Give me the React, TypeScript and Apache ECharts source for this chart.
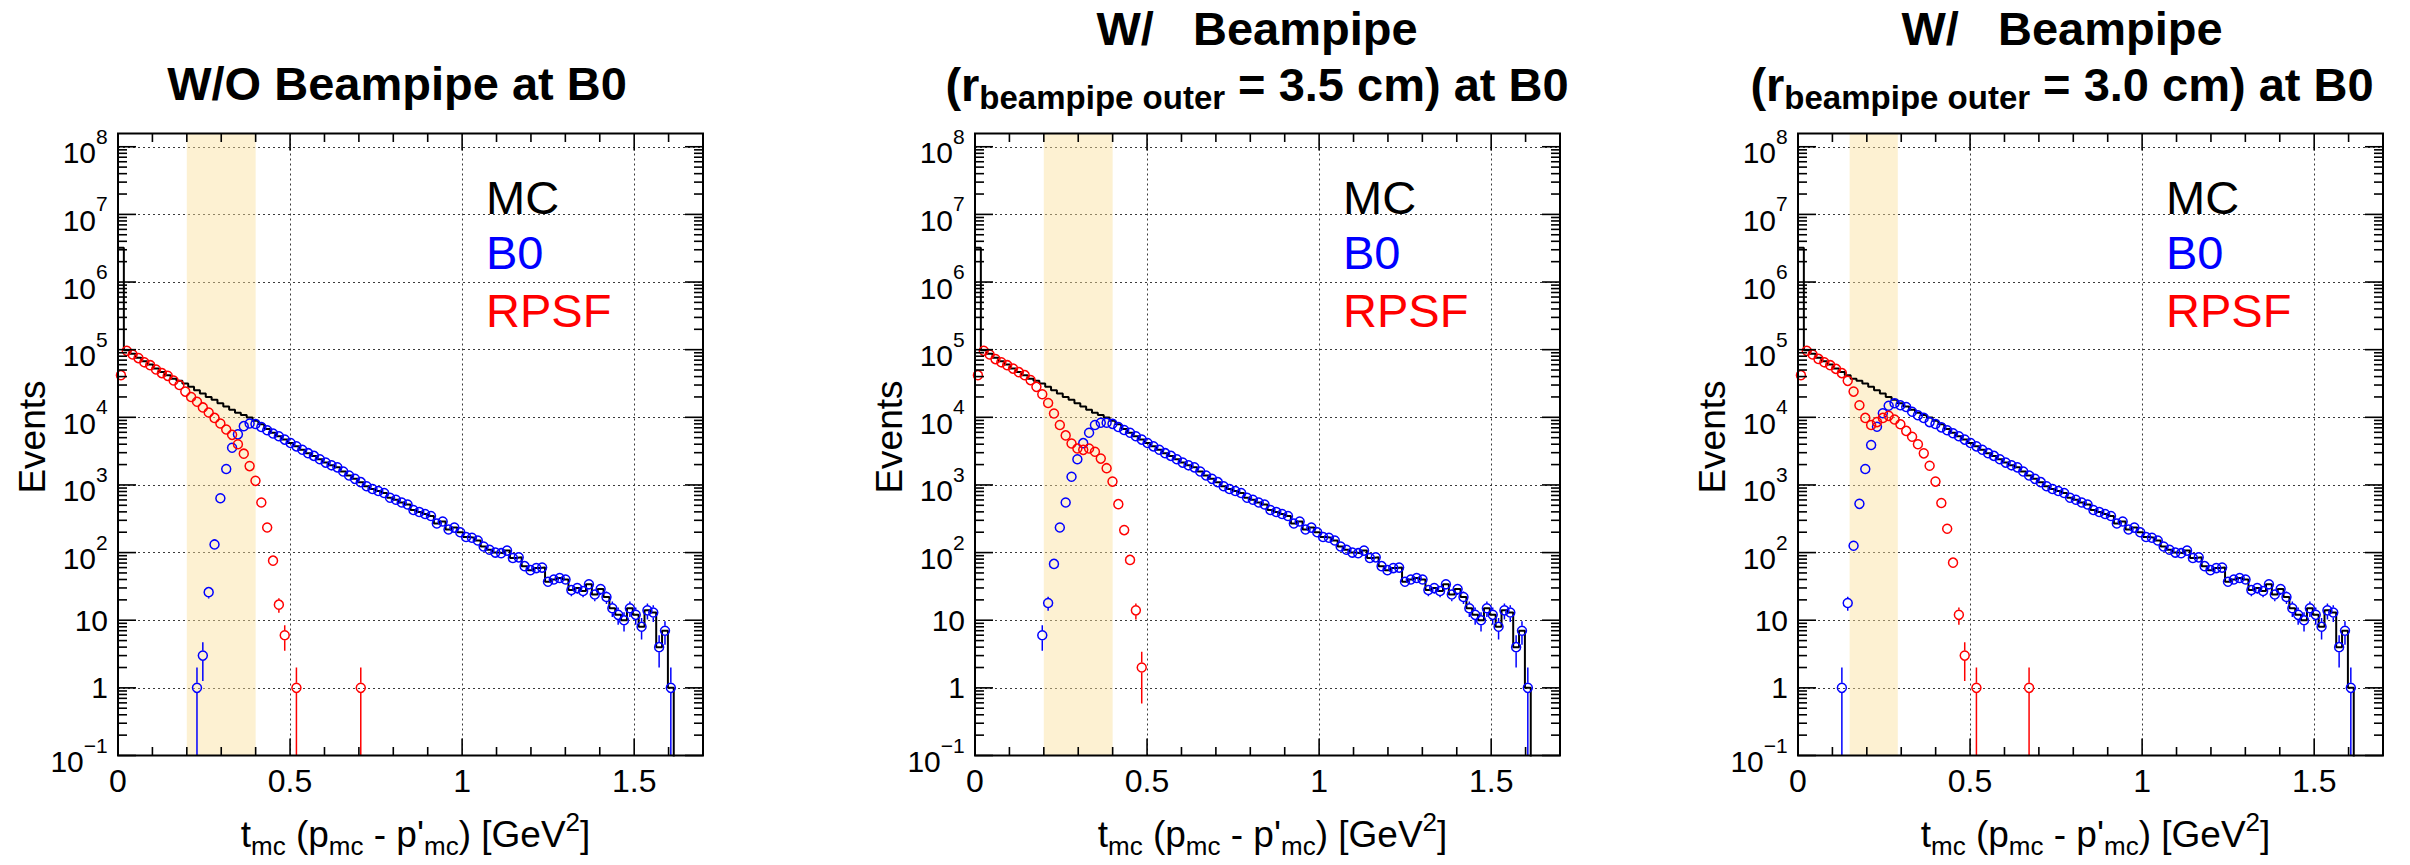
import React, { useEffect, useRef } from 'react';
import * as echarts from 'echarts';

const FONT = '"Liberation Sans", Arial, Helvetica, sans-serif';

// ---------- binning (100 bins of 0.017 GeV^2 between 0 and 1.7) ----------
const BIN_WIDTH = 0.017;
const X_MAX = 1.7;
const Y_MIN = 0.1;
const Y_MAX = 1.57e8;

// ---------- data ----------
// MC truth, bins 0..26 (the part that differs from the reconstructed B0 yield)
const mcHead = [3200000, 97700, 87100, 75900, 67600, 60300, 52500, 46800, 41700, 37200, 34700, 31600, 28200, 25100, 22400, 20000, 18200, 16200, 14500, 12900, 11700, 10800, 9900, 8900, 7900, 6700, 5900];
// bins 27..99: MC and B0 coincide here in all three panels
const commonTail = [5250, 4680, 4170, 3720, 3310, 2950, 2690, 2400, 2140, 1950, 1820, 1580, 1380, 1230, 1100, 955, 871, 813, 759, 646, 603, 550, 513, 427, 398, 372, 347, 269, 288, 219, 234, 200, 170, 166, 151, 123, 110, 100, 98, 107, 83, 85, 63, 55, 59, 60, 37, 40, 42, 40, 28, 30, 27, 34, 24, 29, 22, 15, 12, 10, 15, 12, 8, 14, 13, 4, 7, 1, 0, 0, 0, 0, 0];

// B0 reconstructed, bins 0..26
const b0NoPipeHead = [0, 0, 0, 0, 0, 0, 0, 0, 0, 0, 0, 0, 0, 1, 3, 26, 132, 635, 1720, 3550, 5600, 7400, 8100, 7950, 7200, 6450, 5750];
const b0Pipe35Head = [0, 0, 0, 0, 0, 0, 0, 0, 0, 0, 0, 6, 18, 68, 235, 550, 1320, 2400, 4150, 5900, 7700, 8300, 8300, 8000, 7200, 6500, 5900];
const b0Pipe30Head = [0, 0, 0, 0, 0, 0, 0, 1, 18, 126, 525, 1720, 3900, 7250, 11500, 14800, 16100, 15100, 14200, 12100, 10700, 9800, 8500, 7950, 7100, 6450, 5800];

// RPSF reconstructed, from bin 0 (bins not listed are empty)
const rpsfNoPipe = [42000, 96000, 85000, 75000, 65000, 59000, 51000, 45000, 41000, 35000, 30000, 24000, 20000, 17000, 14000, 11800, 9800, 8100, 6600, 5500, 4000, 2900, 1900, 1150, 550, 235, 76, 17, 6, 0, 1, 0, 0, 0, 0, 0, 0, 0, 0, 0, 0, 1];
const rpsfPipe35 = [42000, 96000, 85000, 72500, 65000, 59000, 52500, 46500, 42000, 35500, 28200, 21900, 16300, 11400, 7700, 5400, 4100, 3450, 3300, 3450, 3100, 2450, 1770, 1120, 520, 215, 78, 14, 2];
const rpsfPipe30 = [42000, 96000, 85000, 73000, 65000, 59000, 52000, 45000, 34600, 24000, 15100, 9800, 7700, 8500, 9800, 10500, 9300, 7900, 6300, 5150, 4000, 2930, 1920, 1120, 540, 225, 71, 12, 3, 0, 1, 0, 0, 0, 0, 0, 0, 0, 0, 1];

// highlighted t ranges
const bandNoPipe = [0.2, 0.4];
const bandPipe35 = [0.2, 0.4];
const bandPipe30 = [0.15, 0.29];

// tick positions / labels
const X_MAJOR = [0, 0.5, 1, 1.5];
const X_MINOR = [0.1, 0.2, 0.3, 0.4, 0.6, 0.7, 0.8, 0.9, 1.1, 1.2, 1.3, 1.4, 1.6];
const Y_MAJOR_EXP = [-1, 0, 1, 2, 3, 4, 5, 6, 7, 8];
const Y_MINOR_MULT = [2, 3, 4, 5, 6, 7, 8, 9];
const LEGEND_NAMES = ['MC', 'B0', 'RPSF'];
const panelTitles = [
  ['W/O Beampipe at B0'],
  ['W/\u00a0\u00a0\u00a0Beampipe', '3.5'],
  ['W/\u00a0\u00a0\u00a0Beampipe', '3.0'],
];

// ---------- layout ----------
const PANEL_LEFT = [118, 975, 1798];
const PLOT_TOP = 133.5;
const PLOT_W = 585;
const PLOT_H = 622;
const TITLE_X = [397, 1257, 2062];
const MARKER_SIZE = 9;
const MARKER_R = 5;
const C_MC = '#000000';
const C_B0 = '#0000ff';
const C_RP = '#ff0000';
const BAND_FILL = 'rgba(250,225,155,0.45)';
const GRID_LINE = { color: '#3a3a3a', width: 1, type: [2, 3] as number[] };

const binCenter = (k: number) => +(BIN_WIDTH * (k + 0.5)).toFixed(4);
const fullCounts = (head: number[], tail: number[]) => head.concat(tail);

function stepData(counts: number[]) {
  const out: number[][] = [];
  counts.forEach((v, k) => {
    const val = v > 0 ? v : 1e-4;
    out.push([+(k * BIN_WIDTH).toFixed(4), val]);
    out.push([+((k + 1) * BIN_WIDTH).toFixed(4), val]);
  });
  return out;
}

function pointData(counts: number[]) {
  const out: number[][] = [];
  counts.forEach((v, k) => {
    if (v > 0) out.push([binCenter(k), v]);
  });
  return out;
}

function yLabel(v: number) {
  const lg = Math.log10(v);
  const n = Math.round(lg);
  if (Math.abs(lg - n) > 1e-6) return '';
  if (n === 0) return '{p|1}';
  if (n === 1) return '{p|10}';
  const e = n < 0 ? '\u2212' + Math.abs(n) : String(n);
  return '{b|10}{s|' + e + '}{z| }';
}

function xLabel(v: number) {
  const r = Math.round(v * 2) / 2;
  if (Math.abs(v - r) > 1e-6) return '';
  return String(r);
}

function errorBarSeries(data: number[][], color: string, i: number) {
  return {
    type: 'custom',
    xAxisIndex: i,
    yAxisIndex: i,
    silent: true,
    z: 4,
    clip: true,
    data,
    renderItem: (params: any, api: any) => {
      const x = api.value(0) as number;
      const n = api.value(1) as number;
      const cs = params.coordSys;
      const bottom = cs.y + cs.height;
      const c = api.coord([x, n]);
      const e = Math.sqrt(n);
      const hiY = api.coord([x, n + e])[1];
      const loY = n - e > 0 ? Math.min(api.coord([x, n - e])[1], bottom) : bottom;
      const children: any[] = [];
      if (c[1] - MARKER_R - hiY > 0.5) {
        children.push({ type: 'line', shape: { x1: c[0], y1: hiY, x2: c[0], y2: c[1] - MARKER_R }, style: { stroke: color, lineWidth: 1.5 } });
      }
      if (loY - (c[1] + MARKER_R) > 0.5) {
        children.push({ type: 'line', shape: { x1: c[0], y1: c[1] + MARKER_R, x2: c[0], y2: loY }, style: { stroke: color, lineWidth: 1.5 } });
      }
      return { type: 'group', children };
    },
  };
}

function frameSeries(i: number) {
  return {
    type: 'custom',
    xAxisIndex: i,
    yAxisIndex: i,
    silent: true,
    z: 15,
    clip: false,
    data: [[0.85, 1000]],
    renderItem: (params: any, api: any) => {
      const cs = params.coordSys;
      const top = cs.y;
      const bottom = cs.y + cs.height;
      const left = cs.x;
      const right = cs.x + cs.width;
      const st = { stroke: '#000', lineWidth: 1.6 };
      const seg = (x1: number, y1: number, x2: number, y2: number) => ({ type: 'line', shape: { x1, y1, x2, y2 }, style: st });
      const ch: any[] = [];
      X_MAJOR.forEach((v) => {
        const px = api.coord([v, 1])[0];
        ch.push(seg(px, bottom, px, bottom - 17), seg(px, top, px, top + 17));
      });
      X_MINOR.forEach((v) => {
        const px = api.coord([v, 1])[0];
        ch.push(seg(px, bottom, px, bottom - 8.5), seg(px, top, px, top + 8.5));
      });
      Y_MAJOR_EXP.forEach((n) => {
        const py = api.coord([0.5, Math.pow(10, n)])[1];
        ch.push(seg(left, py, left + 18, py), seg(right, py, right - 18, py));
      });
      Y_MAJOR_EXP.slice(0, -1).forEach((n) => {
        Y_MINOR_MULT.forEach((m) => {
          const py = api.coord([0.5, m * Math.pow(10, n)])[1];
          ch.push(seg(left, py, left + 9, py), seg(right, py, right - 9, py));
        });
      });
      ch.push({ type: 'rect', shape: { x: left, y: top, width: cs.width, height: cs.height }, style: { fill: 'none', stroke: '#000', lineWidth: 2 } });
      return { type: 'group', children: ch };
    },
  };
}

function bandSeries(band: number[], i: number) {
  return {
    type: 'custom',
    xAxisIndex: i,
    yAxisIndex: i,
    silent: true,
    z: 1,
    data: [[band[0], band[1]]],
    renderItem: (params: any, api: any) => {
      const cs = params.coordSys;
      const x0 = api.coord([api.value(0), 1])[0];
      const x1 = api.coord([api.value(1), 1])[0];
      return { type: 'rect', shape: { x: x0, y: cs.y, width: x1 - x0, height: cs.height }, style: { fill: BAND_FILL } };
    },
  };
}

function buildOption() {
  const mcCounts = fullCounts(mcHead, commonTail);
  const b0Sets = [fullCounts(b0NoPipeHead, commonTail), fullCounts(b0Pipe35Head, commonTail), fullCounts(b0Pipe30Head, commonTail)];
  const rpSets = [rpsfNoPipe, rpsfPipe35, rpsfPipe30];
  const bands = [bandNoPipe, bandPipe35, bandPipe30];

  const grid: any[] = [];
  const xAxis: any[] = [];
  const yAxis: any[] = [];
  const series: any[] = [];
  const graphic: any[] = [];

  const richY = {
    b: { fontSize: 30, fontFamily: FONT, color: '#000', lineHeight: 26, verticalAlign: 'bottom' },
    s: { fontSize: 21, fontFamily: FONT, color: '#000', lineHeight: 32, verticalAlign: 'top' },
    z: { fontSize: 1, fontFamily: FONT, color: '#000', lineHeight: 42, verticalAlign: 'middle' },
    p: { fontSize: 30, fontFamily: FONT, color: '#000', lineHeight: 30 },
  };

  for (let i = 0; i < 3; i++) {
    const L = PANEL_LEFT[i];
    grid.push({ left: L, top: PLOT_TOP, width: PLOT_W, height: PLOT_H, show: false, containLabel: false, outerBoundsMode: 'none' });
    xAxis.push({
      gridIndex: i, type: 'value', min: 0, max: X_MAX, interval: 0.5,
      axisLine: { show: false }, axisTick: { show: false }, minorTick: { show: false },
      splitLine: { show: true, lineStyle: GRID_LINE },
      axisLabel: { show: true, margin: 9, fontSize: 32, fontFamily: FONT, color: '#000', formatter: xLabel },
    });
    yAxis.push({
      gridIndex: i, type: 'log', logBase: 10, min: Y_MIN, max: Y_MAX,
      axisLine: { show: false }, axisTick: { show: false }, minorTick: { show: false },
      splitLine: { show: true, lineStyle: GRID_LINE },
      axisLabel: { show: true, margin: 10, fontFamily: FONT, color: '#000', formatter: yLabel, rich: richY },
    });

    series.push(bandSeries(bands[i], i));
    series.push({
      name: 'MC', type: 'line', xAxisIndex: i, yAxisIndex: i, data: stepData(mcCounts),
      symbol: 'none', showSymbol: false, clip: true, z: 3, silent: true,
      lineStyle: { color: C_MC, width: 2 },
    });
    const b0Pts = pointData(b0Sets[i]);
    const rpPts = pointData(rpSets[i]);
    series.push(errorBarSeries(b0Pts, C_B0, i));
    series.push({
      name: 'B0', type: 'scatter', xAxisIndex: i, yAxisIndex: i, data: b0Pts, symbol: 'circle', symbolSize: MARKER_SIZE,
      itemStyle: { color: 'rgba(0,0,0,0)', borderColor: C_B0, borderWidth: 1.5, opacity: 1 }, z: 5, silent: true, clip: true,
    });
    series.push(errorBarSeries(rpPts, C_RP, i));
    series.push({
      name: 'RPSF', type: 'scatter', xAxisIndex: i, yAxisIndex: i, data: rpPts, symbol: 'circle', symbolSize: MARKER_SIZE,
      itemStyle: { color: 'rgba(0,0,0,0)', borderColor: C_RP, borderWidth: 1.5, opacity: 1 }, z: 6, silent: true, clip: true,
    });
    series.push(frameSeries(i));

    // legend text
    const legendColors = [C_MC, C_B0, C_RP];
    const legendY = [197, 252, 310];
    LEGEND_NAMES.forEach((nm, j) => {
      graphic.push({
        type: 'text', x: L + 368, y: legendY[j], z: 20,
        style: { text: nm, fill: legendColors[j], font: '47px ' + FONT, textAlign: 'left', align: 'left', textVerticalAlign: 'middle', verticalAlign: 'middle' },
      });
    });

    // y axis title
    graphic.push({
      type: 'text', x: L - 86, y: 437, rotation: Math.PI / 2, z: 20,
      style: { text: 'Events', fill: '#000', font: '37px ' + FONT, textAlign: 'center', align: 'center', textVerticalAlign: 'middle', verticalAlign: 'middle' },
    });

    // x axis title
    graphic.push({
      type: 'text', x: L + PLOT_W / 2 + 5, y: 834, z: 20,
      style: {
        text: '{n|t}{u|mc}{n|\u00a0(p}{u|mc}{n|\u00a0-\u00a0p\'}{u|mc}{n|)\u00a0[GeV}{o|2}{n|]}',
        fill: '#000', font: '37px ' + FONT, textAlign: 'center', align: 'center', textVerticalAlign: 'middle', verticalAlign: 'middle',
        rich: {
          n: { fontSize: 37, fontFamily: FONT, fill: '#000', lineHeight: 50, verticalAlign: 'middle' },
          u: { fontSize: 26, fontFamily: FONT, fill: '#000', lineHeight: 26, verticalAlign: 'bottom' },
          o: { fontSize: 26, fontFamily: FONT, fill: '#000', lineHeight: 26, verticalAlign: 'top' },
        },
      },
    });

    // titles
    const t = panelTitles[i];
    if (t.length === 1) {
      graphic.push({
        type: 'text', x: TITLE_X[i], y: 83, z: 20,
        style: { text: t[0], fill: '#000', font: 'bold 47px ' + FONT, textAlign: 'center', align: 'center', textVerticalAlign: 'middle', verticalAlign: 'middle' },
      });
    } else {
      graphic.push({
        type: 'text', x: TITLE_X[i], y: 28, z: 20,
        style: { text: t[0], fill: '#000', font: 'bold 47px ' + FONT, textAlign: 'center', align: 'center', textVerticalAlign: 'middle', verticalAlign: 'middle' },
      });
      graphic.push({
        type: 'text', x: TITLE_X[i], y: 84, z: 20,
        style: {
          text: '{m|(r}{s|beampipe\u00a0outer}{m|\u00a0=\u00a0' + t[1] + '\u00a0cm)\u00a0at\u00a0B0}',
          fill: '#000', font: 'bold 47px ' + FONT, textAlign: 'center', align: 'center', textVerticalAlign: 'middle', verticalAlign: 'middle',
          rich: {
            m: { fontSize: 47, fontWeight: 'bold', fontFamily: FONT, fill: '#000', lineHeight: 60, verticalAlign: 'middle' },
            s: { fontSize: 33, fontWeight: 'bold', fontFamily: FONT, fill: '#000', lineHeight: 40, verticalAlign: 'bottom' },
          },
        },
      });
    }
  }

  return {
    animation: false,
    backgroundColor: '#ffffff',
    grid, xAxis, yAxis, series, graphic,
  };
}

export default function App() {
  const ref = useRef<HTMLDivElement>(null);
  useEffect(() => {
    if (!ref.current) return;
    const chart = echarts.init(ref.current, undefined, { renderer: 'svg' });
    chart.setOption(buildOption() as any);
    return () => chart.dispose();
  }, []);
  return <div ref={ref} style={{ position: 'absolute', left: 0, top: 0, width: 2410, height: 865, background: '#fff' }} />;
}
